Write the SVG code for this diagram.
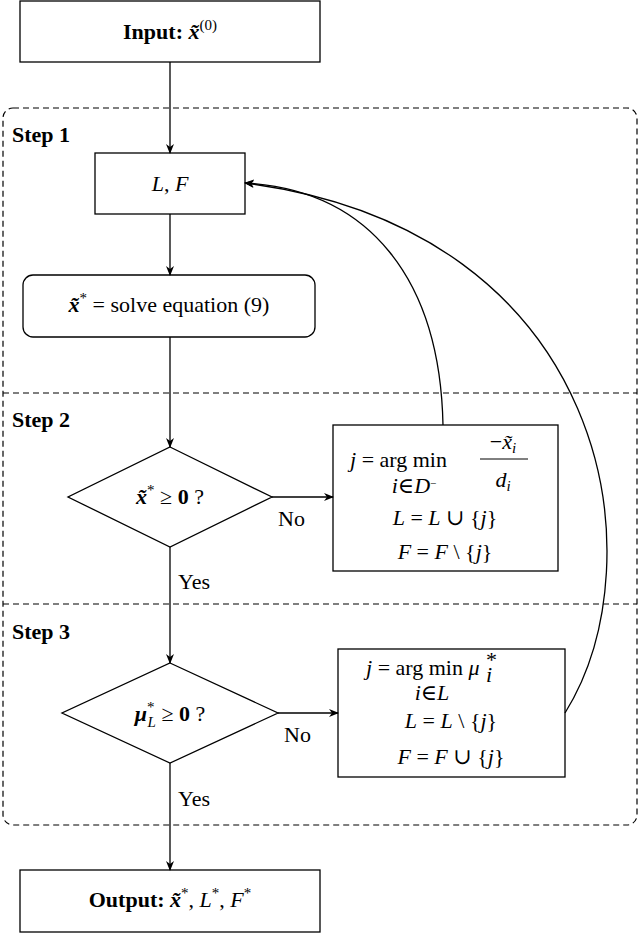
<svg xmlns="http://www.w3.org/2000/svg" width="640" height="933" viewBox="0 0 640 933">
<style>
.b{fill:#fff;stroke:#000;stroke-width:1.3}
.l{fill:none;stroke:#000;stroke-width:1.3}
text{font-family:"Liberation Serif","DejaVu Serif",serif;font-size:22px;fill:#000}
.i{font-style:italic}
.bd{font-weight:bold}
.c{text-anchor:middle}
</style>
<defs>
<marker id="a" viewBox="0 0 10 10" refX="9" refY="5" markerWidth="10" markerHeight="10" orient="auto" markerUnits="userSpaceOnUse">
<path d="M0,1 L10,5 L0,9 L3,5 Z" fill="#000"/>
</marker>
</defs>
<g id="frame">
<rect x="3" y="108" width="634" height="717" rx="10" fill="none" stroke="#000" stroke-width="1.2" stroke-dasharray="6,4"/>
<line x1="3" y1="393" x2="637" y2="393" stroke="#000" stroke-width="1.2" stroke-dasharray="6,4"/>
<line x1="3" y1="604" x2="637" y2="604" stroke="#000" stroke-width="1.2" stroke-dasharray="6,4"/>
<text x="12" y="142" class="bd">Step 1</text>
<text x="12" y="427" class="bd">Step 2</text>
<text x="12" y="639" class="bd">Step 3</text>
</g>
<g id="input"><rect class="b" x="20" y="1" width="300" height="61"/>
<text x="170" y="39" class="c"><tspan class="bd">Input: </tspan><tspan class="bd i">x̃</tspan><tspan font-size="15" dy="-9">(0)</tspan></text></g>
<g id="lf"><rect class="b" x="95" y="153" width="150" height="61"/>
<text x="170" y="191" class="c"><tspan class="i">L</tspan>, <tspan class="i">F</tspan></text></g>
<g id="solve"><rect class="b" x="23" y="275" width="292" height="62" rx="10"/>
<text x="169" y="312" class="c"><tspan class="bd i">x̃</tspan><tspan font-size="15" dy="-9">*</tspan><tspan dy="9"> = solve equation (9)</tspan></text></g>
<g id="d1"><path class="b" d="M170,447 L272,497 L170,547 L68,497 Z"/>
<text x="170" y="504" class="c"><tspan class="bd i">x̃</tspan><tspan font-size="15" dy="-9">*</tspan><tspan dy="9"> ≥ </tspan><tspan class="bd">0</tspan> ?</text></g>
<g id="b2"><rect class="b" x="333" y="425" width="225" height="146"/>
<text x="350" y="467"><tspan class="i">j</tspan> = arg min</text>
<text x="414" y="493" font-size="15" class="c"><tspan class="i">i</tspan>∈<tspan class="i">D</tspan><tspan dy="-6" font-size="11">−</tspan></text>
<text x="503" y="449" class="c">−<tspan class="i">x̃</tspan><tspan class="i" font-size="15" dy="4">i</tspan></text>
<line x1="480" y1="459" x2="528" y2="459" stroke="#000" stroke-width="1"/>
<text x="503" y="487" class="c i">d<tspan font-size="15" dy="4">i</tspan></text>
<text x="445" y="525" class="c"><tspan class="i">L</tspan> = <tspan class="i">L</tspan> ∪ {<tspan class="i">j</tspan>}</text>
<text x="445" y="559" class="c"><tspan class="i">F</tspan> = <tspan class="i">F</tspan> \ {<tspan class="i">j</tspan>}</text></g>
<g id="d2"><path class="b" d="M170,663 L278,713 L170,763 L62,713 Z"/>
<text x="170" y="721" class="c"><tspan class="bd i">μ</tspan><tspan font-size="15" dy="-9">*</tspan><tspan font-size="15" class="i" dx="-7" dy="15">L</tspan><tspan dy="-6"> ≥ </tspan><tspan class="bd">0</tspan> ?</text></g>
<g id="b3"><rect class="b" x="338" y="649" width="227" height="128"/>
<text x="366" y="675"><tspan class="i">j</tspan> = arg min <tspan class="i">μ</tspan></text>
<text x="486" y="667" font-size="15">*</text>
<text x="486" y="682" font-size="15" class="i">i</text>
<text x="432" y="700" font-size="15" class="c"><tspan class="i">i</tspan>∈<tspan class="i">L</tspan></text>
<text x="451" y="728" class="c"><tspan class="i">L</tspan> = <tspan class="i">L</tspan> \ {<tspan class="i">j</tspan>}</text>
<text x="451" y="764" class="c"><tspan class="i">F</tspan> = <tspan class="i">F</tspan> ∪ {<tspan class="i">j</tspan>}</text></g>
<g id="output"><rect class="b" x="20" y="870" width="300" height="62"/>
<text x="170" y="907" class="c"><tspan class="bd">Output: </tspan><tspan class="bd i">x̃</tspan><tspan font-size="15" dy="-9">*</tspan><tspan dy="9">, </tspan><tspan class="i">L</tspan><tspan font-size="15" dy="-9">*</tspan><tspan dy="9">, </tspan><tspan class="i">F</tspan><tspan font-size="15" dy="-9">*</tspan></text></g>
<g id="connectors">
<line class="l" x1="170" y1="62" x2="170" y2="153" marker-end="url(#a)"/>
<line class="l" x1="170" y1="214" x2="170" y2="275" marker-end="url(#a)"/>
<line class="l" x1="170" y1="337" x2="170" y2="447" marker-end="url(#a)"/>
<line class="l" x1="170" y1="547" x2="170" y2="663" marker-end="url(#a)"/>
<line class="l" x1="170" y1="763" x2="170" y2="870" marker-end="url(#a)"/>
<line class="l" x1="272" y1="497" x2="333" y2="497" marker-end="url(#a)"/>
<line class="l" x1="278" y1="713" x2="338" y2="713" marker-end="url(#a)"/>
<path class="l" d="M443,425 C440,280 370,190 245,183" marker-end="url(#a)"/>
<path class="l" d="M565,713 C660,560 610,230 245,183" marker-end="url(#a)"/>
<text x="278" y="526">No</text>
<text x="284" y="742">No</text>
<text x="178" y="589">Yes</text>
<text x="178" y="806">Yes</text>
</g>
</svg>
